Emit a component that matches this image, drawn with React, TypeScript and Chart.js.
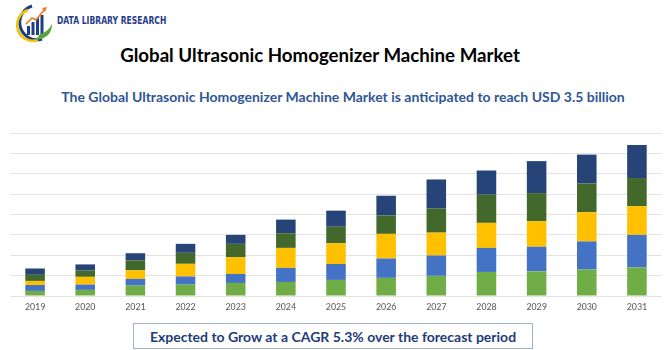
import React, { useEffect, useRef } from "react";
import { Chart, registerables } from "chart.js";

Chart.register(...registerables);

const years = ["2019","2020","2021","2022","2023","2024","2025","2026","2027","2028","2029","2030","2031"];
const seriesA = [0.25,0.30,0.51,0.56,0.64,0.69,0.79,0.89,0.99,1.18,1.21,1.30,1.40];
const seriesB = [0.29,0.26,0.33,0.40,0.44,0.69,0.78,0.95,1.00,1.18,1.21,1.38,1.60];
const seriesC = [0.20,0.38,0.42,0.62,0.82,0.98,1.02,1.21,1.12,1.23,1.25,1.43,1.41];
const seriesD = [0.30,0.31,0.49,0.54,0.66,0.72,0.81,0.91,1.18,1.38,1.38,1.41,1.38];
const seriesE = [0.31,0.30,0.35,0.44,0.44,0.67,0.79,0.96,1.43,1.19,1.57,1.42,1.62];

const titleText = "Global Ultrasonic Homogenizer Machine Market";
const subtitleText = "The Global Ultrasonic Homogenizer Machine Market is anticipated to reach USD 3.5 billion";
const footerText = "Expected to Grow at a CAGR 5.3% over the forecast period";
const brandText = "DATA LIBRARY RESEARCH";

function Logo() {
  return (
    <svg width="46" height="42" viewBox="0 0 46 42" style={{ position: "absolute", left: 12, top: 2 }}>
      <path d="M20 4 A17 17 0 1 0 30 37" fill="none" stroke="#1f3c88" strokeWidth="3" />
      <path d="M16 8 A14 14 0 0 0 26 38" fill="none" stroke="#f2c200" strokeWidth="2.5" />
      <rect x="15" y="24" width="3" height="9" fill="#1f3c88" />
      <rect x="19.5" y="20" width="3" height="13" fill="#1f3c88" />
      <rect x="24" y="16" width="3" height="17" fill="#1f3c88" />
      <rect x="28.5" y="13" width="3" height="20" fill="#1f3c88" />
      <path d="M14 22 L20 16 L24 18 L32 8" fill="none" stroke="#f07a22" strokeWidth="1.6" />
      <path d="M30 6 L35 5 L33 10 Z" fill="#f07a22" />
      <path d="M24 38 Q40 36 40 22 Q36 30 28 32 Z" fill="#5aa33a" />
    </svg>
  );
}

export default function App() {
  const ref = useRef<HTMLCanvasElement | null>(null);
  useEffect(() => {
    if (!ref.current) return;
    const chart = new Chart(ref.current, {
      type: "bar",
      data: {
        labels: years,
        datasets: [
          { label: "A", data: seriesA, backgroundColor: "#70ad47" },
          { label: "B", data: seriesB, backgroundColor: "#4472c4" },
          { label: "C", data: seriesC, backgroundColor: "#ffc000" },
          { label: "D", data: seriesD, backgroundColor: "#43682b" },
          { label: "E", data: seriesE, backgroundColor: "#264478" },
        ],
      },
      options: {
        animation: false,
        responsive: false,
        maintainAspectRatio: false,
        layout: { padding: { left: 10, right: 8, top: 5, bottom: 0 } },
        datasets: { bar: { categoryPercentage: 1, barPercentage: 0.39 } },
        plugins: { legend: { display: false }, tooltip: { enabled: false } },
        scales: {
          x: {
            stacked: true,
            grid: { display: false },
            border: { display: false },
            ticks: { color: "#595959", font: { family: "Calibri, Carlito, 'Open Sans', sans-serif", size: 10 }, padding: -3 },
          },
          y: {
            stacked: true,
            min: 0,
            max: 8,
            ticks: { display: false, stepSize: 1 },
            border: { display: false },
            grid: { color: "#e3e3e3", lineWidth: 1, drawTicks: false },
          },
        },
      },
    });
    return () => chart.destroy();
  }, []);

  return (
    <div style={{ position: "fixed", left: 0, top: 0, width: 670, height: 350, background: "#fff", overflow: "hidden" }}>
      <Logo />
      <div style={{ position: "absolute", left: 57, top: 15, fontFamily: "'DejaVu Sans Condensed', 'Liberation Sans Narrow', sans-serif", fontWeight: 700, fontSize: 10, color: "#1f3c88", whiteSpace: "nowrap", transform: "scaleX(0.85)", transformOrigin: "left center" }}>{brandText}</div>
      <div style={{ position: "absolute", left: 0, width: 640, top: 44, textAlign: "center", fontFamily: "Lato, 'Open Sans', sans-serif", fontWeight: 700, fontSize: 18.7, color: "#000", whiteSpace: "nowrap" }}>{titleText}</div>
      <div style={{ position: "absolute", left: 0, width: 686, top: 88, textAlign: "center", fontFamily: "Lato, 'Open Sans', sans-serif", fontWeight: 700, fontSize: 14, color: "#2f5597", whiteSpace: "nowrap" }}>{subtitleText}</div>
      <canvas ref={ref} width={670} height={182} style={{ position: "absolute", left: 0, top: 128, width: 670, height: 182 }} />
      <div style={{ position: "absolute", left: 133, top: 323, width: 398, height: 24, border: "1.5px solid #9db3cc", boxSizing: "content-box", display: "flex", alignItems: "center", justifyContent: "center", fontFamily: "Lato, 'Open Sans', sans-serif", fontWeight: 700, fontSize: 14, color: "#1f3c78", whiteSpace: "nowrap" }}>{footerText}</div>
    </div>
  );
}
